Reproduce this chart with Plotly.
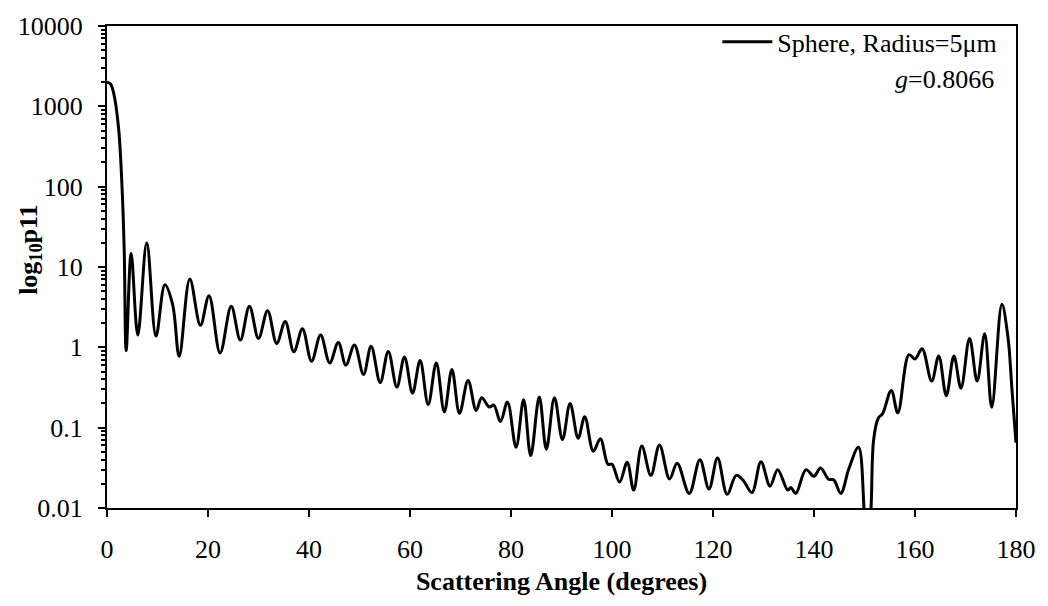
import plotly.graph_objects as go

# Scattering angle (degrees)
angle_deg = [0, 0.7, 1.3, 2.3, 2.95, 3.4, 3.8, 4.78, 6.1, 7.87, 9.7, 11.47, 13.0, 14.3,
             16.4, 18.5, 20.2, 22.4, 24.6, 26.4, 28.2, 30.0, 31.8, 33.6, 35.3, 37.0,
             38.7, 40.5, 42.3, 44.1, 45.8, 47.3, 49.0, 50.8, 52.3, 54.1, 55.7, 57.4,
             58.9, 60.5, 62.0, 63.6, 65.2, 66.8, 68.3, 69.8, 71.5, 73.1, 74.2, 75.7,
             76.6, 77.9, 79.3, 81.0, 82.5, 83.9, 85.6, 87.0, 88.6, 90.2, 91.7, 93.3,
             94.6, 96.3, 97.7, 99.2, 100.0, 101.5, 103.0, 104.3, 105.9, 107.7, 109.4,
             111.4, 112.9, 115.3, 117.4, 119.2, 120.9, 122.8, 124.6, 126.0, 127.7,
             129.5, 131.3, 132.8, 134.8, 135.4, 136.4, 138.4, 140.0, 141.3, 142.9,
             143.9, 145.3, 146.9, 148.8, 150.0, 150.5, 151.2, 151.8, 152.7, 153.6,
             155.3, 156.6, 158.8, 160.0, 161.4, 163.3, 164.7, 166.2, 167.7, 169.1,
             170.8, 172.3, 173.8, 175.2, 177.2, 178.4, 179.2, 180.0]

# Phase function p11 (sphere, radius 5 um)
p11 = [2000, 1900, 1480, 530, 108, 17, 0.91, 14.7, 1.42, 20, 1.38, 6.0, 3.4, 0.77,
       7.1, 1.88, 4.4, 0.85, 3.24, 1.23, 3.24, 1.29, 2.86, 1.12, 2.10, 0.88,
       1.70, 0.67, 1.42, 0.64, 1.15, 0.60, 1.07, 0.46, 1.03, 0.365, 0.89, 0.32,
       0.76, 0.27, 0.685, 0.194, 0.64, 0.157, 0.53, 0.151, 0.386, 0.164, 0.236, 0.181,
       0.191, 0.119, 0.208, 0.057, 0.223, 0.045, 0.24, 0.054, 0.236, 0.071, 0.20, 0.074,
       0.137, 0.051, 0.073, 0.035, 0.035, 0.021, 0.037, 0.0167, 0.059, 0.0255, 0.061,
       0.023, 0.036, 0.0152, 0.040, 0.0172, 0.042, 0.0148, 0.0255, 0.022, 0.0156,
       0.0377, 0.0187, 0.030, 0.0167, 0.018, 0.0152, 0.030, 0.0248, 0.0315, 0.0228,
       0.0224, 0.0152, 0.0308, 0.057, 0.008, 0.004, 0.008, 0.07, 0.13, 0.15,
       0.29, 0.153, 0.81, 0.715, 0.96, 0.38, 0.78, 0.25, 0.78, 0.31,
       1.29, 0.38, 1.48, 0.18, 3.43, 1.35, 0.3, 0.065]

x_ticks = [0, 20, 40, 60, 80, 100, 120, 140, 160, 180]
y_tickvals = [0.01, 0.1, 1, 10, 100, 1000, 10000]
y_ticktext = ["0.01", "0.1", "1", "10", "100", "1000", "10000"]

series_name = "Sphere, Radius=5μm"
g_value = "0.8066"

assert len(angle_deg) == len(p11)

FONT = "Liberation Serif, Times New Roman, serif"
FS = 26

fig = go.Figure()
fig.add_trace(go.Scatter(
    x=angle_deg, y=p11, mode="lines", name=series_name,
    line=dict(color="black", width=3, shape="spline", smoothing=1.0),
))

fig.update_layout(
    width=1048, height=606,
    margin=dict(l=107, r=26, t=15, b=98),
    paper_bgcolor="white", plot_bgcolor="white",
    font=dict(family=FONT, size=FS, color="black"),
    showlegend=True,
    legend=dict(x=0.985, y=1.016, xanchor="right", yanchor="top",
                bgcolor="rgba(0,0,0,0)", font=dict(size=FS, family=FONT),
                itemwidth=50),
    annotations=[
        dict(text="<b>log<sub>10</sub>p11</b>", xref="paper", yref="paper",
             x=-0.085, y=0.535, textangle=-90, showarrow=False,
             xanchor="center", yanchor="middle", font=dict(size=FS, family=FONT)),
        dict(text="<i>g</i>=" + g_value, xref="paper", yref="paper",
             x=0.978, y=0.889, showarrow=False, xanchor="right", yanchor="middle",
             font=dict(size=FS, family=FONT)),
    ],
)

fig.update_xaxes(
    range=[0, 180], tickvals=x_ticks, ticks="outside", ticklen=7, tickwidth=2,
    tickcolor="black", showline=True, linewidth=2, linecolor="black", mirror=True,
    showgrid=False, zeroline=False, ticklabelstandoff=10,
    title=dict(text="<b>Scattering Angle (degrees)</b>", standoff=9,
               font=dict(size=FS, family=FONT)),
)
fig.update_yaxes(
    type="log", range=[-2, 4], tickvals=y_tickvals, ticktext=y_ticktext,
    ticks="outside", ticklen=7, tickwidth=2, tickcolor="black",
    minor=dict(ticks="outside", ticklen=4, tickwidth=1.5, tickcolor="black",
               dtick="D1", showgrid=False),
    showline=True, linewidth=2, linecolor="black", mirror=True,
    showgrid=False, zeroline=False, ticklabelstandoff=10,
)

fig.write_html("out.html")
